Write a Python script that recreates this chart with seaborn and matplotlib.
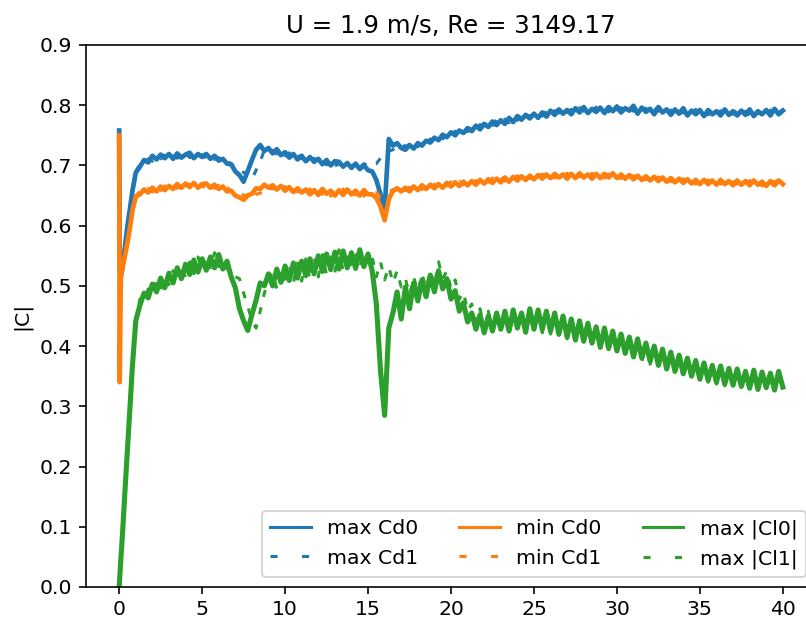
import numpy as np
import pandas as pd
import matplotlib
matplotlib.use("Agg")
import matplotlib.pyplot as plt
import seaborn as sns

# sampling times: dense start-up, then every 0.25 s
t_start = [0.0, 0.03, 0.1, 0.2, 0.35, 0.5, 0.65, 0.8, 1.0]
t = np.concatenate([t_start, np.arange(1.25, 40.001, 0.25)])

max_cd0 = [0.758, 0.530, 0.515, 0.530, 0.565, 0.600, 0.628, 0.658, 0.688,
           0.698, 0.709, 0.705, 0.716, 0.710, 0.718, 0.712, 0.719,
           0.711, 0.720, 0.713, 0.718, 0.721, 0.712, 0.719, 0.714,
           0.719, 0.711, 0.716, 0.708, 0.711, 0.703, 0.702, 0.690,
           0.684, 0.673, 0.691, 0.709, 0.726, 0.734, 0.724, 0.729,
           0.720, 0.727, 0.717, 0.722, 0.713, 0.719, 0.710, 0.716,
           0.707, 0.714, 0.706, 0.711, 0.702, 0.709, 0.700, 0.707,
           0.706, 0.698, 0.704, 0.696, 0.703, 0.694, 0.700, 0.692,
           0.690, 0.676, 0.652, 0.628, 0.744, 0.733, 0.737, 0.729,
           0.726, 0.734, 0.728, 0.737, 0.733, 0.741, 0.738, 0.746,
           0.742, 0.751, 0.747, 0.755, 0.750, 0.758, 0.754, 0.762,
           0.757, 0.766, 0.760, 0.769, 0.764, 0.773, 0.767, 0.775,
           0.769, 0.779, 0.772, 0.782, 0.776, 0.784, 0.778, 0.786,
           0.779, 0.788, 0.781, 0.791, 0.784, 0.793, 0.786, 0.792,
           0.785, 0.795, 0.788, 0.797, 0.787, 0.794, 0.789, 0.796,
           0.787, 0.797, 0.790, 0.798, 0.788, 0.795, 0.791, 0.799,
           0.786, 0.796, 0.789, 0.794, 0.785, 0.797, 0.788, 0.793,
           0.784, 0.793, 0.786, 0.795, 0.783, 0.791, 0.785, 0.792,
           0.782, 0.792, 0.785, 0.790, 0.783, 0.793, 0.784, 0.790,
           0.783, 0.791, 0.784, 0.793, 0.782, 0.790, 0.785, 0.792,
           0.783, 0.794, 0.785, 0.791]

max_cd1 = [0.756, 0.528, 0.517, 0.534, 0.568, 0.603, 0.630, 0.661, 0.690,
           0.702, 0.705, 0.711, 0.707, 0.716, 0.711, 0.717, 0.713,
           0.719, 0.712, 0.717, 0.721, 0.713, 0.719, 0.712, 0.718,
           0.712, 0.717, 0.710, 0.713, 0.706, 0.709, 0.701, 0.699,
           0.697, 0.688, 0.686, 0.677, 0.692, 0.706, 0.726, 0.729,
           0.725, 0.719, 0.724, 0.716, 0.721, 0.713, 0.718, 0.711,
           0.713, 0.706, 0.712, 0.703, 0.710, 0.701, 0.708, 0.699,
           0.703, 0.697, 0.705, 0.695, 0.701, 0.697, 0.703, 0.699,
           0.704, 0.703, 0.712, 0.714, 0.724, 0.726, 0.734, 0.731,
           0.733, 0.727, 0.736, 0.731, 0.740, 0.735, 0.744, 0.739,
           0.748, 0.744, 0.753, 0.748, 0.757, 0.752, 0.759, 0.756,
           0.764, 0.759, 0.768, 0.763, 0.770, 0.766, 0.776, 0.770,
           0.777, 0.771, 0.781, 0.775, 0.785, 0.777, 0.783, 0.780,
           0.787, 0.782, 0.790, 0.783, 0.791, 0.787, 0.795, 0.788,
           0.793, 0.787, 0.796, 0.790, 0.795, 0.788, 0.797, 0.790,
           0.795, 0.789, 0.799, 0.792, 0.796, 0.789, 0.797, 0.790,
           0.794, 0.788, 0.795, 0.787, 0.796, 0.790, 0.794, 0.786,
           0.792, 0.785, 0.794, 0.787, 0.790, 0.784, 0.793, 0.786,
           0.791, 0.784, 0.792, 0.786, 0.791, 0.782, 0.789, 0.785,
           0.792, 0.785, 0.790, 0.783, 0.794, 0.786, 0.791, 0.784,
           0.792, 0.786, 0.795, 0.788]

min_cd0 = [0.750, 0.340, 0.515, 0.530, 0.550, 0.572, 0.597, 0.625, 0.648,
           0.652, 0.660, 0.655, 0.663, 0.657, 0.665, 0.659, 0.666,
           0.661, 0.669, 0.663, 0.670, 0.664, 0.671, 0.663, 0.669,
           0.670, 0.663, 0.668, 0.661, 0.665, 0.657, 0.658, 0.650,
           0.647, 0.643, 0.650, 0.653, 0.662, 0.661, 0.668, 0.663,
           0.667, 0.660, 0.666, 0.658, 0.664, 0.656, 0.662, 0.655,
           0.660, 0.652, 0.659, 0.651, 0.661, 0.653, 0.658, 0.650,
           0.659, 0.651, 0.660, 0.652, 0.658, 0.650, 0.659, 0.652,
           0.652, 0.646, 0.632, 0.609, 0.644, 0.658, 0.662, 0.657,
           0.663, 0.657, 0.665, 0.659, 0.667, 0.661, 0.668, 0.662,
           0.669, 0.663, 0.671, 0.665, 0.672, 0.666, 0.673, 0.667,
           0.674, 0.668, 0.676, 0.670, 0.677, 0.671, 0.678, 0.672,
           0.680, 0.673, 0.681, 0.675, 0.682, 0.676, 0.683, 0.677,
           0.684, 0.678, 0.685, 0.679, 0.686, 0.680, 0.685, 0.678,
           0.686, 0.679, 0.687, 0.680, 0.685, 0.678, 0.686, 0.679,
           0.686, 0.680, 0.687, 0.679, 0.685, 0.678, 0.684, 0.677,
           0.683, 0.676, 0.682, 0.675, 0.681, 0.674, 0.680, 0.673,
           0.679, 0.672, 0.678, 0.671, 0.677, 0.670, 0.676, 0.669,
           0.676, 0.669, 0.675, 0.668, 0.676, 0.669, 0.674, 0.667,
           0.675, 0.668, 0.674, 0.667, 0.675, 0.668, 0.673, 0.666,
           0.674, 0.667, 0.675, 0.669]

min_cd1 = [0.748, 0.345, 0.512, 0.533, 0.553, 0.575, 0.600, 0.628, 0.650,
           0.657, 0.654, 0.662, 0.656, 0.664, 0.658, 0.666, 0.661,
           0.668, 0.662, 0.670, 0.664, 0.669, 0.662, 0.670, 0.665,
           0.664, 0.669, 0.662, 0.667, 0.660, 0.664, 0.657, 0.659,
           0.657, 0.650, 0.651, 0.644, 0.652, 0.654, 0.664, 0.662,
           0.661, 0.667, 0.659, 0.665, 0.657, 0.663, 0.656, 0.661,
           0.654, 0.661, 0.650, 0.660, 0.652, 0.659, 0.649, 0.657,
           0.653, 0.661, 0.650, 0.659, 0.651, 0.660, 0.649, 0.657,
           0.650, 0.655, 0.648, 0.652, 0.656, 0.660, 0.657, 0.663,
           0.658, 0.664, 0.660, 0.666, 0.660, 0.667, 0.663, 0.669,
           0.664, 0.670, 0.666, 0.673, 0.667, 0.674, 0.668, 0.672,
           0.669, 0.675, 0.671, 0.677, 0.672, 0.679, 0.673, 0.680,
           0.674, 0.681, 0.676, 0.683, 0.677, 0.684, 0.678, 0.685,
           0.679, 0.686, 0.680, 0.687, 0.679, 0.686, 0.681, 0.687,
           0.680, 0.688, 0.681, 0.686, 0.679, 0.687, 0.680, 0.685,
           0.679, 0.686, 0.680, 0.684, 0.678, 0.685, 0.677, 0.683,
           0.677, 0.683, 0.676, 0.682, 0.674, 0.681, 0.673, 0.679,
           0.673, 0.679, 0.672, 0.678, 0.670, 0.677, 0.669, 0.675,
           0.670, 0.676, 0.668, 0.675, 0.669, 0.674, 0.667, 0.673,
           0.669, 0.674, 0.667, 0.675, 0.668, 0.673, 0.666, 0.672,
           0.668, 0.674, 0.667, 0.673]

max_cl0 = [0.000, 0.014, 0.046, 0.088, 0.160, 0.228, 0.298, 0.368, 0.442,
           0.468, 0.488, 0.480, 0.503, 0.490, 0.513, 0.497, 0.521,
           0.505, 0.530, 0.512, 0.536, 0.519, 0.543, 0.523, 0.545,
           0.526, 0.548, 0.530, 0.552, 0.528, 0.541, 0.515, 0.497,
           0.462, 0.442, 0.426, 0.452, 0.476, 0.505, 0.500, 0.520,
           0.500, 0.528, 0.506, 0.533, 0.509, 0.538, 0.513, 0.541,
           0.517, 0.545, 0.520, 0.550, 0.524, 0.553, 0.527, 0.556,
           0.528, 0.558, 0.530, 0.555, 0.529, 0.560, 0.532, 0.553,
           0.525, 0.470, 0.360, 0.285, 0.430, 0.455, 0.490, 0.445,
           0.498, 0.462, 0.505, 0.475, 0.510, 0.482, 0.518, 0.490,
           0.525, 0.495, 0.512, 0.478, 0.492, 0.458, 0.472, 0.440,
           0.455, 0.428, 0.452, 0.422, 0.450, 0.425, 0.455, 0.428,
           0.458, 0.425, 0.460, 0.430, 0.455, 0.423, 0.462, 0.428,
           0.460, 0.428, 0.458, 0.425, 0.455, 0.420, 0.450, 0.415,
           0.445, 0.410, 0.442, 0.408, 0.438, 0.405, 0.432, 0.398,
           0.430, 0.396, 0.425, 0.392, 0.420, 0.388, 0.415, 0.382,
           0.412, 0.380, 0.405, 0.375, 0.400, 0.368, 0.395, 0.362,
           0.390, 0.358, 0.385, 0.354, 0.380, 0.350, 0.376, 0.345,
           0.372, 0.343, 0.368, 0.340, 0.367, 0.337, 0.363, 0.335,
           0.362, 0.333, 0.358, 0.330, 0.360, 0.328, 0.357, 0.331,
           0.355, 0.327, 0.358, 0.332]

max_cl1 = [0.000, 0.015, 0.048, 0.090, 0.163, 0.231, 0.301, 0.372, 0.446,
           0.478, 0.475, 0.495, 0.485, 0.508, 0.494, 0.516, 0.502,
           0.525, 0.508, 0.535, 0.514, 0.540, 0.520, 0.548, 0.526,
           0.550, 0.530, 0.555, 0.532, 0.545, 0.528, 0.530, 0.515,
           0.512, 0.488, 0.466, 0.442, 0.430, 0.458, 0.488, 0.512,
           0.522, 0.495, 0.530, 0.500, 0.535, 0.505, 0.538, 0.508,
           0.545, 0.510, 0.548, 0.515, 0.552, 0.518, 0.556, 0.522,
           0.560, 0.525, 0.556, 0.528, 0.562, 0.530, 0.555, 0.535,
           0.548, 0.515, 0.540, 0.510, 0.532, 0.505, 0.525, 0.498,
           0.512, 0.485, 0.515, 0.490, 0.520, 0.495, 0.525, 0.500,
           0.540, 0.512, 0.525, 0.495, 0.510, 0.478, 0.490, 0.458,
           0.470, 0.440, 0.462, 0.432, 0.458, 0.428, 0.452, 0.425,
           0.448, 0.420, 0.452, 0.428, 0.450, 0.422, 0.455, 0.430,
           0.452, 0.422, 0.450, 0.420, 0.448, 0.418, 0.445, 0.412,
           0.440, 0.406, 0.436, 0.404, 0.430, 0.400, 0.428, 0.395,
           0.424, 0.392, 0.420, 0.388, 0.415, 0.385, 0.410, 0.378,
           0.405, 0.374, 0.402, 0.370, 0.395, 0.365, 0.390, 0.360,
           0.385, 0.355, 0.380, 0.350, 0.376, 0.347, 0.371, 0.343,
           0.368, 0.340, 0.365, 0.337, 0.362, 0.334, 0.360, 0.332,
           0.358, 0.330, 0.356, 0.328, 0.357, 0.326, 0.354, 0.329,
           0.352, 0.325, 0.355, 0.330]

series_labels = ["max Cd0", "max Cd1", "min Cd0", "min Cd1", "max |Cl0|", "max |Cl1|"]
y_ticks = [0.0, 0.1, 0.2, 0.3, 0.4, 0.5, 0.6, 0.7, 0.8, 0.9]
x_ticks = [0, 5, 10, 15, 20, 25, 30, 35, 40]

df = pd.DataFrame({
    "t": t,
    "max Cd0": max_cd0, "max Cd1": max_cd1,
    "min Cd0": min_cd0, "min Cd1": min_cd1,
    "max |Cl0|": max_cl0, "max |Cl1|": max_cl1,
})

colors = ["C0", "C0", "C1", "C1", "C2", "C2"]
# dashes run tighter along the jagged curves than in the short legend sample
curve_dash = (0, (2.3, 3.5))
legend_dash = (0, (2.3, 8))
styles = ["-", curve_dash, "-", curve_dash, "-", curve_dash]
widths = [2.3, 1.5, 2.3, 1.5, 2.5, 1.5]

DPI = 147
fig = plt.figure(figsize=(806 / DPI, 619 / DPI), dpi=DPI)
ax = fig.add_axes([86 / 806, 32 / 619, 730 / 806, 542 / 619])

for name, c, ls, lw in zip(series_labels, colors, styles, widths):
    sns.lineplot(data=df, x="t", y=name, color=c, linestyle=ls,
                 linewidth=lw, label=name, ax=ax, sort=False)

ax.set_xlim(-2, 42)
ax.set_ylim(0, 0.9)
ax.set_xticks(x_ticks)
ax.set_yticks(y_ticks)
ax.tick_params(axis="x", pad=3)
ax.set_xlabel("")
ax.set_ylabel("|C|")
ax.set_title("U = 1.9 m/s, Re = 3149.17", fontsize=12)
leg = ax.legend(loc="lower right", ncol=3)
for h, ls in zip(leg.legend_handles, styles):
    h.set_linewidth(1.5)
    h.set_linestyle("-" if ls == "-" else legend_dash)

fig.savefig("out.png", dpi=DPI)
